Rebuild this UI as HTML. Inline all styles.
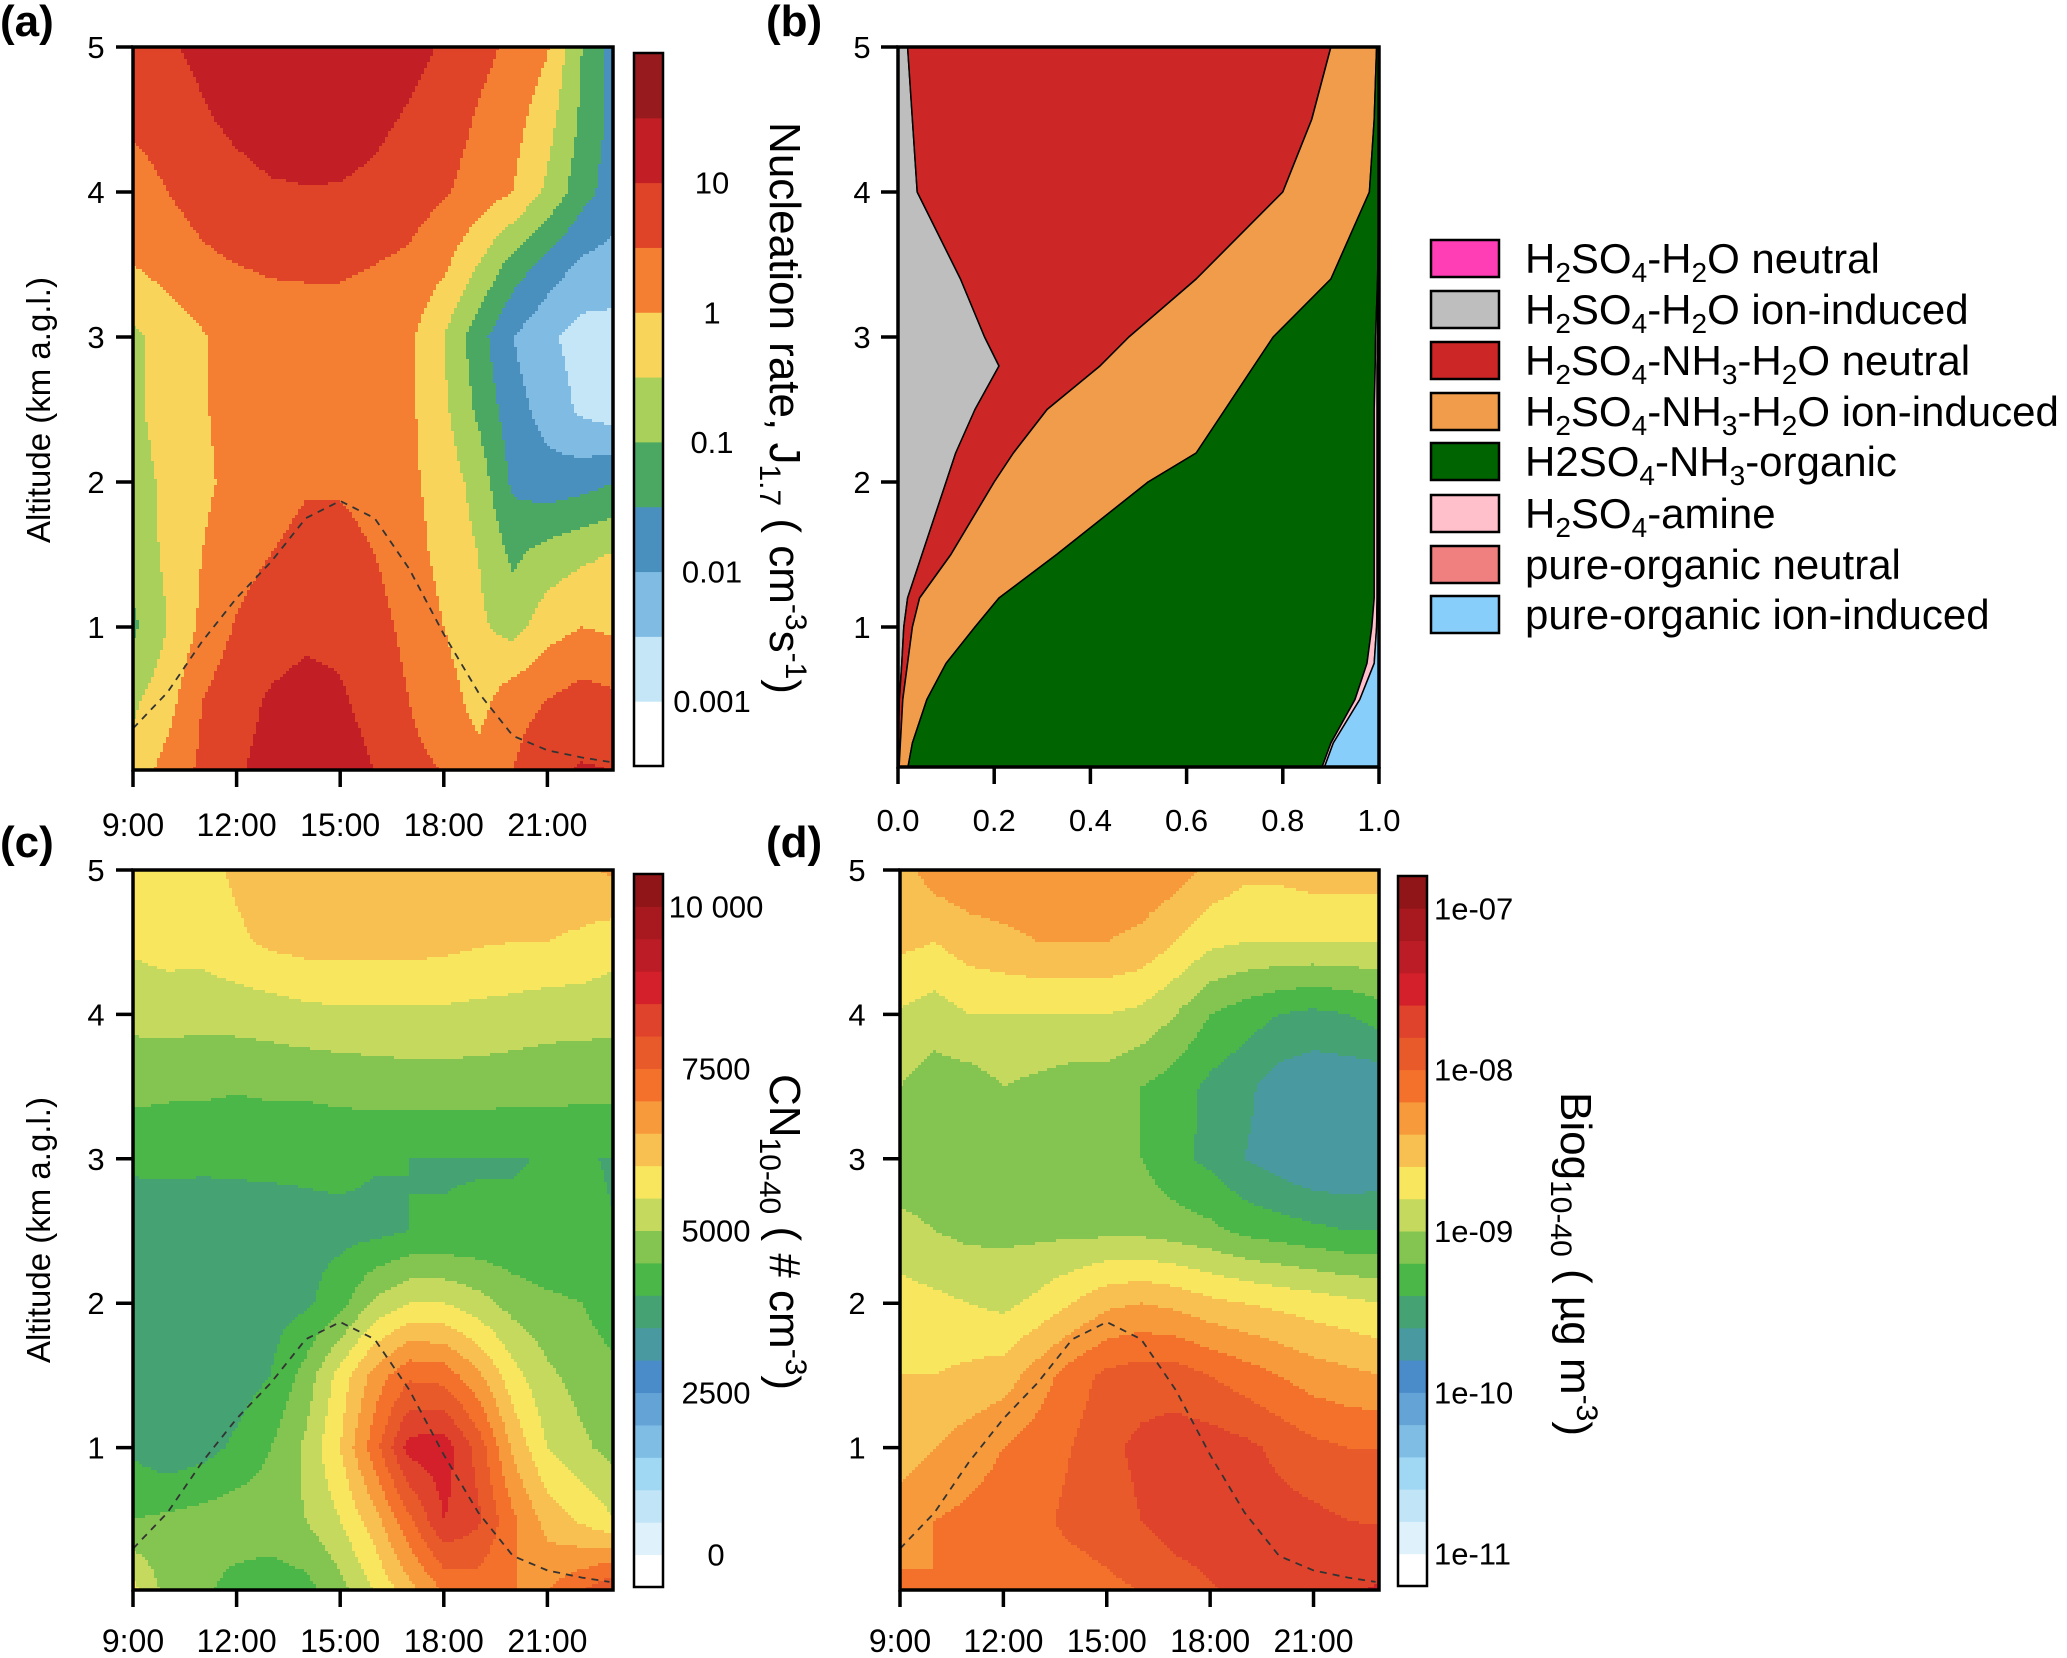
<!DOCTYPE html>
<html><head><meta charset="utf-8">
<style>
html,body{margin:0;padding:0;background:#fff;}
svg{display:block;font-family:"Liberation Sans",Arial,sans-serif;}
</style></head>
<body>
<svg id="fig" width="2067" height="1658" viewBox="0 0 2067 1658" xmlns="http://www.w3.org/2000/svg">
<rect x="0" y="0" width="2067" height="1658" fill="#fff"/>
<g id="heatA"></g>
<g id="areaB"></g>
<g id="heatC"></g>
<g id="heatD"></g>
<g id="axes"></g>

<text x="0" y="36" font-size="44" font-weight="bold">(a)</text>
<text x="766" y="36" font-size="44" font-weight="bold">(b)</text>
<text x="0" y="857" font-size="44" font-weight="bold">(c)</text>
<text x="766" y="857" font-size="44" font-weight="bold">(d)</text>

<text transform="translate(50,410) rotate(-90)" text-anchor="middle" font-size="33">Altitude (km a.g.l.)</text>
<text transform="translate(50,1230) rotate(-90)" text-anchor="middle" font-size="33">Altitude (km a.g.l.)</text>

<text transform="translate(770,408) rotate(90)" text-anchor="middle" font-size="44">Nucleation rate, J<tspan font-size="30" dy="10">1.7</tspan><tspan dy="-10"> ( cm</tspan><tspan font-size="30" dy="-16">-3</tspan><tspan dy="16">s</tspan><tspan font-size="30" dy="-16">-1</tspan><tspan dy="16">)</tspan></text>
<text transform="translate(770,1232) rotate(90)" text-anchor="middle" font-size="44">CN<tspan font-size="30" dy="10">10-40</tspan><tspan dy="-10"> ( # cm</tspan><tspan font-size="30" dy="-16">-3</tspan><tspan dy="16">)</tspan></text>
<text transform="translate(1561,1264) rotate(90)" text-anchor="middle" font-size="44">Biog<tspan font-size="30" dy="10">10-40</tspan><tspan dy="-10"> ( µg m</tspan><tspan font-size="30" dy="-16">-3</tspan><tspan dy="16">)</tspan></text>

<g id="legend" font-size="42">
 <g><rect x="1431" y="240" width="68" height="37" fill="#ff3eb5" stroke="#000" stroke-width="2.5"/><text x="1525" y="273">H<tspan font-size="28" dy="9">2</tspan><tspan dy="-9">SO</tspan><tspan font-size="28" dy="9">4</tspan><tspan dy="-9">-H</tspan><tspan font-size="28" dy="9">2</tspan><tspan dy="-9">O neutral</tspan></text></g>
 <g><rect x="1431" y="291" width="68" height="37" fill="#bebebe" stroke="#000" stroke-width="2.5"/><text x="1525" y="324">H<tspan font-size="28" dy="9">2</tspan><tspan dy="-9">SO</tspan><tspan font-size="28" dy="9">4</tspan><tspan dy="-9">-H</tspan><tspan font-size="28" dy="9">2</tspan><tspan dy="-9">O ion-induced</tspan></text></g>
 <g><rect x="1431" y="342" width="68" height="37" fill="#cd2626" stroke="#000" stroke-width="2.5"/><text x="1525" y="375">H<tspan font-size="28" dy="9">2</tspan><tspan dy="-9">SO</tspan><tspan font-size="28" dy="9">4</tspan><tspan dy="-9">-NH</tspan><tspan font-size="28" dy="9">3</tspan><tspan dy="-9">-H</tspan><tspan font-size="28" dy="9">2</tspan><tspan dy="-9">O neutral</tspan></text></g>
 <g><rect x="1431" y="393" width="68" height="37" fill="#f09c4a" stroke="#000" stroke-width="2.5"/><text x="1525" y="426">H<tspan font-size="28" dy="9">2</tspan><tspan dy="-9">SO</tspan><tspan font-size="28" dy="9">4</tspan><tspan dy="-9">-NH</tspan><tspan font-size="28" dy="9">3</tspan><tspan dy="-9">-H</tspan><tspan font-size="28" dy="9">2</tspan><tspan dy="-9">O ion-induced</tspan></text></g>
 <g><rect x="1431" y="443" width="68" height="37" fill="#006400" stroke="#000" stroke-width="2.5"/><text x="1525" y="476">H2SO<tspan font-size="28" dy="9">4</tspan><tspan dy="-9">-NH</tspan><tspan font-size="28" dy="9">3</tspan><tspan dy="-9">-organic</tspan></text></g>
 <g><rect x="1431" y="495" width="68" height="37" fill="#ffc0cb" stroke="#000" stroke-width="2.5"/><text x="1525" y="528">H<tspan font-size="28" dy="9">2</tspan><tspan dy="-9">SO</tspan><tspan font-size="28" dy="9">4</tspan><tspan dy="-9">-amine</tspan></text></g>
 <g><rect x="1431" y="546" width="68" height="37" fill="#f08080" stroke="#000" stroke-width="2.5"/><text x="1525" y="579">pure-organic neutral</text></g>
 <g><rect x="1431" y="596" width="68" height="37" fill="#87cefa" stroke="#000" stroke-width="2.5"/><text x="1525" y="629">pure-organic ion-induced</text></g>
</g>
</svg>

<script>
const times = [9,10,11,12,13,14,15,16,17,18,19,20,21,22,23];
const altsDesc = [5,4.5,4,3.5,3,2.5,2,1.5,1,0.5,0];
const nucLog = [
 [0.85,0.95,1.1,1.2,1.25,1.3,1.3,1.25,1.15,0.95,0.65,0.4,0.05,-1.0,-1.8],
 [0.6,0.75,0.95,1.1,1.2,1.2,1.2,1.1,0.95,0.75,0.45,0.2,-0.3,-1.1,-1.7],
 [0.25,0.5,0.7,0.85,0.95,0.98,0.97,0.9,0.75,0.55,0.3,0.0,-0.6,-1.3,-1.8],
 [0.0,0.2,0.4,0.5,0.55,0.55,0.55,0.5,0.4,0.1,-0.5,-1.2,-1.7,-2.1,-2.2],
 [-0.6,-0.3,-0.05,0.2,0.3,0.35,0.35,0.3,0.1,-0.5,-1.3,-2.0,-2.4,-2.7,-2.7],
 [-0.6,-0.3,-0.05,0.2,0.3,0.35,0.35,0.3,0.1,-0.4,-1.1,-1.8,-2.2,-2.6,-2.8],
 [-0.7,-0.4,-0.1,0.15,0.3,0.45,0.45,0.35,0.1,-0.2,-0.7,-1.6,-1.8,-1.7,-1.5],
 [-0.8,-0.4,0.0,0.3,0.5,0.65,0.65,0.5,0.2,-0.15,-0.5,-1.1,-0.8,-0.6,-0.45],
 [-1.1,-0.5,0.1,0.55,0.8,0.9,0.9,0.7,0.35,0.0,-0.4,-0.7,-0.2,0.0,-0.1],
 [-0.6,-0.2,0.5,0.85,1.05,1.15,1.05,0.85,0.5,0.25,-0.2,0.3,0.5,0.7,0.6],
 [-0.3,0.2,0.6,0.95,1.15,1.3,1.2,1.0,0.6,0.5,0.2,0.5,0.9,1.05,1.0]
];
const cnVals = [
 [6500,6300,6300,6600,6850,6900,6900,6900,6900,6850,6800,6800,6800,6900,7100],
 [6100,6200,6200,6400,6600,6700,6700,6700,6700,6650,6550,6500,6500,6400,6200],
 [5650,5700,5650,5700,5750,5850,5900,5900,5900,5900,5850,5800,5700,5700,5650],
 [5150,5100,5100,5050,5100,5100,5150,5200,5250,5250,5250,5200,5200,5150,5150],
 [4650,4650,4600,4600,4600,4600,4650,4550,4500,4480,4480,4480,4520,4520,4480],
 [4050,4150,4200,4250,4300,4350,4350,4350,4500,4520,4550,4550,4550,4550,4500],
 [4150,4150,4200,4250,4300,4400,4800,5600,6000,6000,5700,5300,5100,5000,4700],
 [4200,4100,4150,4250,4500,5200,6200,7200,7900,7800,7100,6200,5600,5300,5100],
 [4400,4150,4300,4600,5000,5600,6500,7800,9200,9300,8300,6900,6000,5600,5300],
 [5000,5100,5200,5300,5300,5500,6000,6800,7900,9000,8600,7600,6800,6400,6000],
 [6200,5300,5100,4800,4700,4800,5300,6000,6800,7500,7700,7500,7500,8000,8600]
];
const biogLog = [
 [-8.5,-8.3,-8.25,-8.25,-8.25,-8.25,-8.25,-8.25,-8.3,-8.45,-8.55,-8.55,-8.5,-8.5,-8.5],
 [-8.55,-8.6,-8.5,-8.45,-8.4,-8.4,-8.4,-8.45,-8.6,-8.75,-8.8,-8.8,-8.8,-8.8,-8.8],
 [-8.82,-8.9,-8.8,-8.8,-8.8,-8.8,-8.8,-8.85,-9.0,-9.2,-9.3,-9.4,-9.45,-9.4,-9.3],
 [-9.0,-9.1,-9.1,-9.0,-9.05,-9.1,-9.1,-9.2,-9.3,-9.45,-9.55,-9.7,-9.75,-9.75,-9.75],
 [-9.1,-9.1,-9.15,-9.15,-9.15,-9.15,-9.15,-9.2,-9.35,-9.45,-9.6,-9.7,-9.8,-9.8,-9.75],
 [-8.95,-9.0,-9.05,-9.05,-9.05,-9.05,-9.05,-9.05,-9.1,-9.15,-9.25,-9.3,-9.35,-9.4,-9.4],
 [-8.7,-8.75,-8.8,-8.85,-8.75,-8.6,-8.45,-8.4,-8.45,-8.55,-8.6,-8.65,-8.7,-8.75,-8.8],
 [-8.6,-8.6,-8.55,-8.5,-8.3,-8.1,-7.95,-7.9,-7.9,-8.0,-8.1,-8.2,-8.3,-8.35,-8.4],
 [-8.5,-8.4,-8.3,-8.2,-8.1,-8.0,-7.85,-7.75,-7.7,-7.7,-7.75,-7.85,-7.95,-8.0,-8.0],
 [-8.3,-8.2,-8.15,-8.1,-8.05,-7.95,-7.9,-7.8,-7.7,-7.7,-7.7,-7.72,-7.75,-7.8,-7.82],
 [-8.15,-8.2,-8.15,-8.1,-8.05,-8.1,-8.05,-8.0,-7.9,-7.82,-7.75,-7.72,-7.7,-7.65,-7.55]
];
const blhTimes = [9,10,11,12,13,14,15,16,17,18,19,20,21,22,22.8];
const blhAlt = [0.3,0.55,0.9,1.2,1.45,1.75,1.87,1.75,1.4,0.95,0.55,0.25,0.15,0.1,0.07];
const bAlts = [0.02,0.2,0.5,0.75,1,1.2,1.5,2,2.2,2.5,2.8,3,3.4,4,4.5,5];
const grayEnd = [0,0,0.003,0.008,0.012,0.02,0.05,0.1,0.12,0.16,0.21,0.18,0.13,0.04,0.03,0.02];
const redEnd = [0.002,0.005,0.01,0.02,0.03,0.045,0.11,0.2,0.24,0.31,0.42,0.48,0.62,0.8,0.86,0.9];
const orangeEnd = [0.02,0.03,0.06,0.1,0.16,0.21,0.33,0.52,0.62,0.68,0.74,0.78,0.9,0.98,0.99,0.995];
const greenEnd = [0.88,0.9,0.95,0.975,0.985,0.99,0.99,0.99,0.99,0.99,0.992,0.993,0.997,1,1,1];
const pinkEnd = [0.885,0.905,0.96,0.99,0.995,0.996,0.996,0.996,0.996,0.996,0.996,0.997,0.998,1,1,1];
const blueEnd = [1,1,1,1,1,1,1,1,1,1,1,1,1,1,1,1];
const timeTicks = [9,12,15,18,21];
const timeLabels = ["9:00","12:00","15:00","18:00","21:00"];
const altTicks = [1,2,3,4,5];
const fracTicks = [0,0.2,0.4,0.6,0.8,1.0];
const fracLabels = ["0.0","0.2","0.4","0.6","0.8","1.0"];
const cbALabels = ["10","1","0.1","0.01","0.001"];
const cbAValues = [1,0,-1,-2,-3];
const cbCLabels = ["10 000","7500","5000","2500","0"];
const cbCValues = [10000,7500,5000,2500,0];
const cbDLabels = ["1e-07","1e-08","1e-09","1e-10","1e-11"];
const cbDValues = [-7,-8,-9,-10,-11];

const palA = ["#ffffff","#c4e6f7","#7fbbe3","#4a90bf","#4aa862","#a8d05a","#f9d45a","#f47f33","#e04428","#c21e26","#971a1e"];
const pal22 = ["#ffffff","#dff1fb","#c1e5f7","#a0d8f4","#80bde4","#64a3d6","#4a8bc9","#4999a0","#44a273","#4ab748","#84c551","#c5d95e","#f8e75e","#f8c050","#f79a3b","#f4712b","#e95a2a","#e0432b","#d4202b","#bb1c26","#a8191f","#901518"];

const NS = "http://www.w3.org/2000/svg";
function mk(tag, attrs, parent){const e=document.createElementNS(NS,tag);for(const k in attrs)e.setAttribute(k,attrs[k]);parent.appendChild(e);return e;}
function lin(d0,d1,r0,r1){const f=v=>r0+(v-d0)*(r1-r0)/(d1-d0);f.inv=p=>d0+(p-r0)*(d1-d0)/(r1-r0);return f;}

function interp(grid,t,a){
  let ti=(t-times[0]); ti=Math.max(0,Math.min(times.length-1.0001,ti));
  const i0=Math.floor(ti), ft=ti-i0;
  let ai=(5-a)/0.5; ai=Math.max(0,Math.min(altsDesc.length-1.0001,ai));
  const j0=Math.floor(ai), fa=ai-j0;
  const v00=grid[j0][i0],v01=grid[j0][i0+1],v10=grid[j0+1][i0],v11=grid[j0+1][i0+1];
  return (v00*(1-ft)+v01*ft)*(1-fa)+(v10*(1-ft)+v11*ft)*fa;
}

function heat(g,grid,xs,ys,x0,x1,y0,y1,binFn,pal,nm){
  const s=3;
  function flush(xa,xb,py,b){
    const r=mk("rect",{x:xa,y:py,width:xb-xa+0.6,height:Math.min(s,y1-py)+0.6,fill:pal[b]},g);
    
    
  }
  for(let py=y0;py<y1;py+=s){
    const a=ys.inv(py+s/2);
    let runStart=x0,runBin=-1;
    for(let px=x0;px<x1;px+=s){
      const t=xs.inv(Math.min(px+s/2,x1));
      let b=binFn(interp(grid,t,a));b=Math.max(0,Math.min(pal.length-1,b));
      if(b!==runBin){
        if(runBin>=0)flush(runStart,px,py,runBin);
        runStart=px;runBin=b;
      }
    }
    if(runBin>=0)flush(runStart,x1,py,runBin);
  }
}

const ax=document.getElementById('axes');
function frame(x0,y0,x1,y1,nm){
  const r=mk("rect",{x:x0,y:y0,width:x1-x0,height:y1-y0,fill:"none",stroke:"#000","stroke-width":3.5},ax);
  
  
}
function yTicks(x0,ys,labelX,nm){
  altTicks.forEach(v=>{
    const y=ys(v);
    mk("line",{x1:x0-17,x2:x0,y1:y,y2:y,stroke:"#000","stroke-width":3.5},ax);
    const t=mk("text",{x:labelX,y:y+11,"font-size":31,"text-anchor":"middle"},ax);
    t.textContent=String(v);
    
    
  });
}
function xTimeTicks(xs,y1,labY,nm){
  timeTicks.forEach((v,i)=>{
    const x=xs(v);
    mk("line",{x1:x,x2:x,y1:y1,y2:y1+17,stroke:"#000","stroke-width":3.5},ax);
    const t=mk("text",{x:x,y:labY,"font-size":32,"text-anchor":"middle"},ax);
    t.textContent=timeLabels[i];
    
    
  });
}
function blh(xs,ys,nm){
  const pts=blhTimes.map((t,i)=>xs(t).toFixed(1)+","+ys(blhAlt[i]).toFixed(1)).join(" ");
  const p=mk("polyline",{points:pts,fill:"none",stroke:"#333","stroke-width":1.8,"stroke-dasharray":"7 6"},ax);
  
  
}
function colorbar(x,y0,y1,pal,valToY,values,labels,labX,anchor,nm){
  const n=pal.length,h=(y1-y0)/n;
  pal.forEach((c,i)=>{
    const r=mk("rect",{x:x,y:y1-(i+1)*h,width:29,height:h+0.5,fill:c},ax);
    
    
  });
  mk("rect",{x:x,y:y0,width:29,height:y1-y0,fill:"none",stroke:"#000","stroke-width":2.5},ax);
  values.forEach((v,i)=>{
    const t=mk("text",{x:labX,y:valToY(v)+11,"font-size":31,"text-anchor":anchor},ax);
    t.textContent=labels[i];
    
    
  });
}

// Panel a
const xsA=lin(9,22.9,133,613), ysA=lin(5,0.014,47,770);
heat(document.getElementById('heatA'),nucLog,xsA,ysA,133,613,47,770,v=>Math.floor((v+3.5)/0.5),palA,'contour-band-a');
blh(xsA,ysA,'boundary-layer-line-a');
frame(133,47,613,770,'plot-frame-a');
yTicks(133,ysA,96,'y-tick-label-a');
xTimeTicks(xsA,770,836,'x-tick-label-a');
colorbar(634,53,766,palA,v=>766-(v+3.5)/5.5*713,cbAValues,cbALabels,712,"middle",'colorbar-a');

// Panel b
const xsB=lin(0,1,898,1379);
const gB=document.getElementById('areaB');
const layers=[
  {left:null,right:grayEnd,fill:"#bebebe",nm:"area-h2so4-h2o-ion"},
  {left:grayEnd,right:redEnd,fill:"#cd2626",nm:"area-h2so4-nh3-h2o-neutral"},
  {left:redEnd,right:orangeEnd,fill:"#f09c4a",nm:"area-h2so4-nh3-h2o-ion"},
  {left:orangeEnd,right:greenEnd,fill:"#006400",nm:"area-h2so4-nh3-organic"},
  {left:greenEnd,right:pinkEnd,fill:"#ffc0cb",nm:"area-h2so4-amine"},
  {left:pinkEnd,right:blueEnd,fill:"#87cefa",nm:"area-pure-organic-ion"}
];
layers.forEach(L=>{
  const pts=[];
  bAlts.forEach((a,i)=>pts.push(xsB(L.right[i]).toFixed(1)+","+ysA(a).toFixed(1)));
  for(let i=bAlts.length-1;i>=0;i--)pts.push(xsB(L.left?L.left[i]:0).toFixed(1)+","+ysA(bAlts[i]).toFixed(1));
  const p=mk("polygon",{points:pts.join(" "),fill:L.fill,stroke:"#000","stroke-width":1.5,"stroke-linejoin":"round"},gB);
  
  
});
mk("rect",{x:898,y:767,width:481,height:6,fill:"#fff"},gB);
frame(898,47,1379,767,'plot-frame-b');
yTicks(898,ysA,862,'y-tick-label-b');
fracTicks.forEach((v,i)=>{
  const x=xsB(v);
  mk("line",{x1:x,x2:x,y1:767,y2:784,stroke:"#000","stroke-width":3.5},ax);
  const t=mk("text",{x:x,y:831,"font-size":31,"text-anchor":"middle"},ax);
  t.textContent=fracLabels[i];
  
  
});

// Panel c
const ysC=lin(5,0.014,870,1590);
heat(document.getElementById('heatC'),cnVals,xsA,ysC,133,613,870,1590,v=>Math.floor(v/500),pal22,'contour-band-c');
blh(xsA,ysC,'boundary-layer-line-c');
frame(133,870,613,1590,'plot-frame-c');
yTicks(133,ysC,96,'y-tick-label-c');
xTimeTicks(xsA,1590,1652,'x-tick-label-c');
colorbar(634,874,1587,pal22,v=>1587-(v/500+1)*(713/22),cbCValues,cbCLabels,716,"middle",'colorbar-c');

// Panel d
const xsD=lin(9,22.9,900,1379);
heat(document.getElementById('heatD'),biogLog,xsD,ysC,900,1379,870,1590,v=>Math.floor((v+11)/0.2)+1,pal22,'contour-band-d');
blh(xsD,ysC,'boundary-layer-line-d');
frame(900,870,1379,1590,'plot-frame-d');
yTicks(900,ysC,857,'y-tick-label-d');
xTimeTicks(xsD,1590,1652,'x-tick-label-d');
colorbar(1398,876,1586,pal22,v=>1586-((v+11)/0.2+1)*(710/22),cbDValues,cbDLabels,1434,"start",'colorbar-d');
</script>
</body></html>
